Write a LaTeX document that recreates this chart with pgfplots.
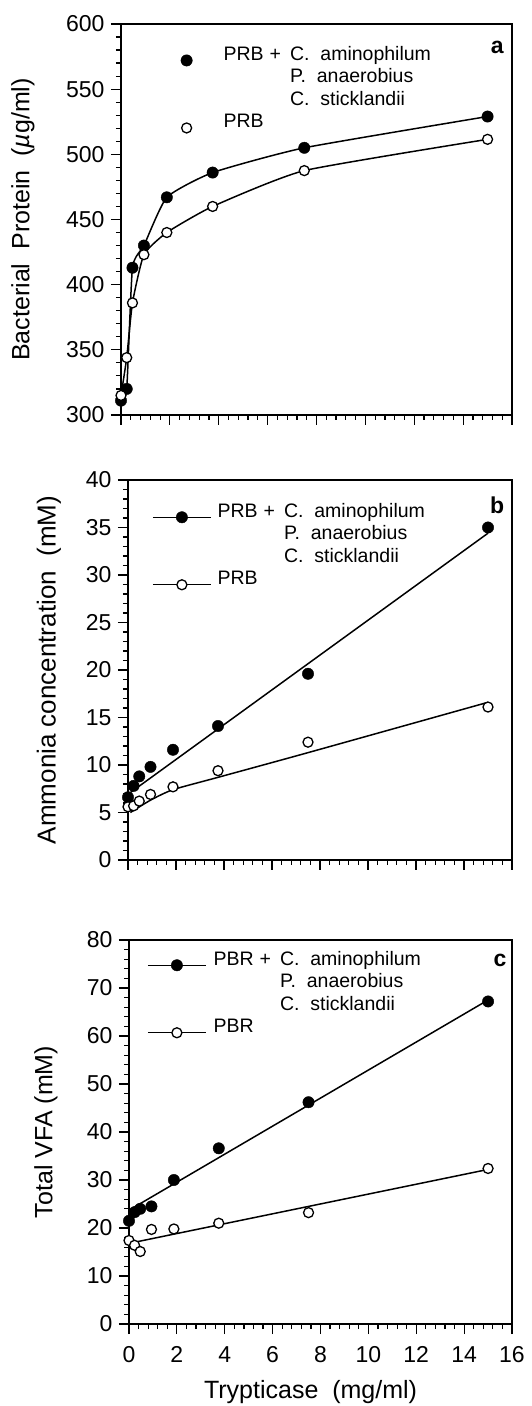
\documentclass[border=0pt]{standalone}
\usepackage{fontspec}
\setmainfont{Liberation Sans}
\usepackage{pgfplots}
\usepackage{pgfplotstable}
\pgfplotsset{compat=1.18}

% panel a: bacterial protein
\pgfplotstableread{
x y
0 311
0.234 320
0.469 413
0.938 430
1.875 467
3.75 486
7.5 505
15 529
}\protA
\pgfplotstableread{
x y
0 315
0.234 344
0.469 386
0.938 423
1.875 440
3.75 460
7.5 487.5
15 511.5
}\protB
% panel b: ammonia
\pgfplotstableread{
x y
0 6.6
0.234 7.8
0.469 8.8
0.938 9.8
1.875 11.6
3.75 14.1
7.5 19.6
15 35.0
}\ammA
\pgfplotstableread{
x y
0 5.6
0.234 5.7
0.469 6.2
0.938 6.9
1.875 7.7
3.75 9.4
7.5 12.4
15 16.1
}\ammB
% panel c: total VFA
\pgfplotstableread{
x y
0 21.5
0.234 23.3
0.469 24.0
0.938 24.5
1.875 30.0
3.75 36.6
7.5 46.2
15 67.2
}\vfaA
\pgfplotstableread{
x y
0 17.4
0.234 16.4
0.469 15.1
0.938 19.7
1.875 19.8
3.75 21.0
7.5 23.2
15 32.4
}\vfaB

\newcommand{\legfirst}[1]{#1\hspace{6pt}+\hspace{9pt}C.~~aminophilum}
\newcommand{\legmore}[2]{\phantom{#1\hspace{6pt}+\hspace{9pt}}#2}

\tikzset{letter/.style={font=\bfseries\fontsize{23}{23}\selectfont, anchor=center}}

\pgfplotsset{
  panel/.style={
    scale only axis,
    xmin=0, xmax=16, xtick={0,2,...,16},
    minor x tick num=4, minor y tick num=4,
    tick align=outside, xtick pos=bottom, ytick pos=left,
    major tick length=10pt, minor tick length=5pt,
    every tick/.style={black, line width=1.2pt},
    axis line style={line width=1.5pt},
    tick label style={font=\fontsize{23}{23}\selectfont},
    yticklabel style={xshift=-3pt},
    /pgf/number format/assume math mode=true,
    label style={font=\fontsize{25}{25}\selectfont},
    legend style={draw=none, fill=none, inner sep=0pt, anchor=north west,
      font=\fontsize{19.5}{22.5}\selectfont, legend cell align=left,
      row sep=0pt,
      nodes={inner sep=0pt, font=\fontsize{19.5}{22.5}\selectfont,
        text height=11.25pt, text depth=11.25pt}},
  },
  filled/.style={only marks, mark=*, mark size=5.7pt, mark options={fill=black, draw=black}},
  open/.style={only marks, mark=*, mark size=5.0pt, mark options={fill=white, draw=black, line width=1.3pt}},
  fit/.style={no marks, line width=1.5pt, black, forget plot},
  markleg/.style={legend image code/.code={
      \path[draw=none, fill=none] (-6pt,-6pt) rectangle (6pt,6pt);
      \draw[##1] plot coordinates {(0pt,0pt)};}},
  linedleg/.style={legend image code/.code={
      \draw[black, line width=1.4pt] (0pt,0pt) -- (58pt,0pt);
      \draw[##1] plot coordinates {(29pt,0pt)};}},
}

\begin{document}
\begin{tikzpicture}
\useasboundingbox (0,0) rectangle (531pt,1406pt);

% ---- a ----
\begin{axis}[panel, at={(121pt,991pt)}, anchor=south west,
  width=391pt, height=391pt,
  ymin=300, ymax=600, ytick={300,350,...,600},
  xticklabels={},
  ylabel={Bacterial~~Protein~~({\itshape µ}g/ml)},
  ylabel style={at={(axis description cs:-0.251,0.5)}, anchor=center},
  legend style={at={(axis description cs:0.152,0.936)}, column sep=31pt},
]
\addplot[fit, smooth, tension=0.3] table {\protA};
\addplot[fit, smooth, tension=0.3] table {\protB};
\addplot[filled, markleg] table {\protA};
\addlegendimage{empty legend}
\addlegendimage{empty legend}
\addplot[open, markleg] table {\protB};
\legend{\legfirst{PRB}, \legmore{PRB}{P.~~anaerobius}, \legmore{PRB}{C.~~sticklandii}, PRB}
\node[letter] at (rel axis cs:0.962,0.941) {a};
\end{axis}

% ---- b ----
\begin{axis}[panel, at={(128pt,546pt)}, anchor=south west,
  width=384pt, height=380pt,
  ymin=0, ymax=40, ytick={0,5,...,40},
  xticklabels={},
  ylabel={Ammonia~concentration~~(mM)},
  ylabel style={at={(axis description cs:-0.206,0.5)}, anchor=center, font=\fontsize{26}{26}\selectfont},
  legend style={at={(axis description cs:0.0625,0.932)}, column sep=6pt,
    row 4/.style={nodes={text height=16pt}}},
]
\addplot[fit] coordinates {(0.1,7.1) (15,34.4)};
\addplot[fit, smooth, tension=0.4] coordinates {(0.1,5.0) (0.94,6.3) (1.875,7.4) (3.75,8.7) (7.5,11.3) (15,16.6)};
\addplot[filled, linedleg] table {\ammA};
\addlegendimage{empty legend}
\addlegendimage{empty legend}
\addplot[open, linedleg] table {\ammB};
\legend{\legfirst{PRB}, \legmore{PRB}{P.~~anaerobius}, \legmore{PRB}{C.~~sticklandii}, PRB}
\node[letter] at (rel axis cs:0.961,0.934) {b};
\end{axis}

% ---- c ----
\begin{axis}[panel, at={(129pt,82pt)}, anchor=south west,
  width=383pt, height=384pt,
  ymin=0, ymax=80, ytick={0,10,...,80},
  xlabel={Trypticase~~(mg/ml)},
  xticklabel style={yshift=-9pt},
  xlabel style={at={(axis description cs:0.474,0)}, anchor=center, yshift=-68pt},
  ylabel={Total VFA (mM)},
  ylabel style={at={(axis description cs:-0.217,0.5)}, anchor=center},
  legend style={at={(axis description cs:0.047,0.964)}, column sep=7pt,
    row 4/.style={nodes={text height=20pt}}},
]
\addplot[fit] coordinates {(0.1,24.0) (15,67.5)};
\addplot[fit] coordinates {(0.2,17.0) (15,32.2)};
\addplot[filled, linedleg] table {\vfaA};
\addlegendimage{empty legend}
\addlegendimage{empty legend}
\addplot[open, linedleg] table {\vfaB};
\legend{\legfirst{PBR}, \legmore{PBR}{P.~~anaerobius}, \legmore{PBR}{C.~~sticklandii}, PBR}
\node[letter] at (rel axis cs:0.969,0.948) {c};
\end{axis}
\end{tikzpicture}
\end{document}
